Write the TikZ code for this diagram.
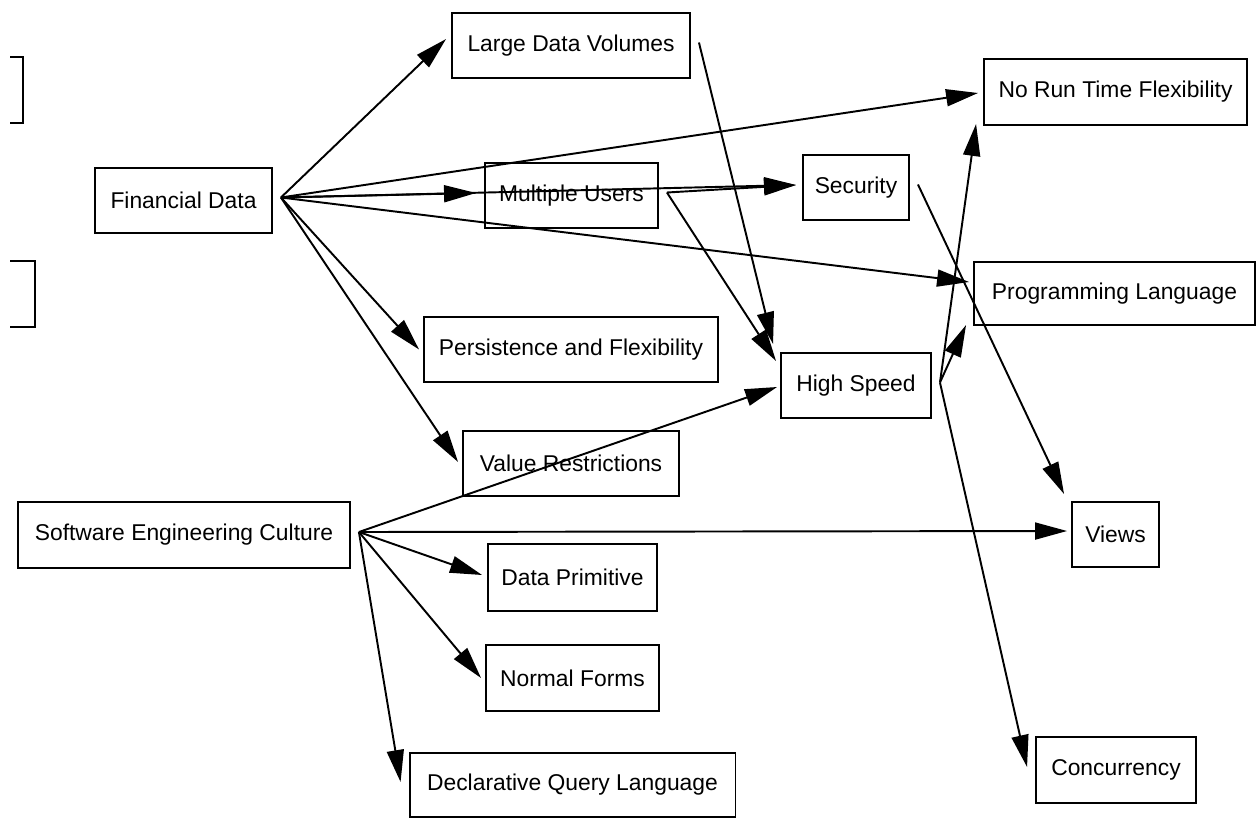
\documentclass[tikz,border=0pt]{standalone}
\usepackage{fontspec}
\setmainfont{Liberation Sans}
\usetikzlibrary{arrows.meta}
\definecolor{LineClr}{rgb}{0,0,0}

\begin{document}
\begin{tikzpicture}[x=0.02cm,y=-0.02cm,
  concept/.style={draw=LineClr,line width=1.1pt,minimum height=1.3cm,inner sep=2pt,
    font=\fontsize{13}{15}\selectfont},
  link/.style={draw=LineClr,line width=1.1pt,-{Triangle[length=0.64cm,width=0.34cm]}}]
\useasboundingbox (0,0) rectangle (1257,818);

\draw[line width=1.1pt] (10,57) -| (23,123) -- (10,123);
\draw[line width=1.1pt] (10,261) -| (35,327) -- (10,327);

\node[concept,minimum width=3.54cm] (fd) at (183.5,200.5) {Financial Data};
\node[concept,minimum width=6.64cm,minimum height=1.32cm] (culture) at (184,535) {Software Engineering Culture};

\node[concept,minimum width=4.76cm] (ldv) at (571,45.5) {Large Data Volumes};
\node[concept,minimum width=3.46cm] (mu) at (571.5,195.5) {Multiple Users};
\node[concept,minimum width=5.88cm] (pf) at (571,349.5) {Persistence and Flexibility};
\node[concept,minimum width=4.32cm] (vr) at (571,463.5) {Value Restrictions};
\node[concept,minimum width=3.38cm,minimum height=1.34cm] (dp) at (572.5,577.5) {Data Primitive};
\node[concept,minimum width=3.46cm,minimum height=1.32cm] (nf) at (572.5,678) {Normal Forms};
\node[concept,minimum width=6.52cm,minimum height=1.28cm] (dql) at (572.5,785) {Declarative Query Language};

\node[concept,minimum width=2.12cm] (security) at (856,187.5) {Security};
\node[concept,minimum width=3cm] (hs) at (856,385.5) {High Speed};

\node[concept,minimum width=5.26cm,minimum height=1.32cm] (nrtf) at (1115.5,92) {No Run Time Flexibility};
\node[concept,minimum width=5.62cm,minimum height=1.26cm] (pl) at (1114.5,293.5) {Programming Language};
\node[concept,minimum width=1.74cm] (views) at (1115.5,534.5) {Views};
\node[concept,minimum width=3.2cm,minimum height=1.32cm] (conc) at (1116,770) {Concurrency};

\foreach \n in {fd,culture,ldv,mu,security,hs}
  \coordinate (\n-out) at ([shift={(8,-3)}]\n.east);

\draw[link] (fd-out) -- ([shift={(-5,-6.5)}]ldv.west);
\draw[link] (fd-out) -- ([shift={(-5,1)}]nrtf.west);
\draw[link] (fd-out) -- ([shift={(-8,-2.5)}]mu.west);
\draw[link] (fd-out) -- ([shift={(-6,-2.5)}]security.west);
\draw[link] (fd-out) -- ([shift={(-4,-11.5)}]pl.west);
\draw[link] (fd-out) -- ([shift={(-4,0)}]pf.west);
\draw[link] (fd-out) -- ([shift={(-4,-1.5)}]vr.west);

\draw[link] (ldv-out) -- ([shift={(-7,-8)}]hs.north west);
\draw[link] (mu-out) -- ([shift={(-4,9)}]hs.north west);
\draw[link] (mu-out) -- ([shift={(-6,-2.5)}]security.west);
\draw[link] (security-out) -- ([shift={(-7,-7)}]views.north west);

\draw[link] (hs-out) -- ([shift={(-7,-2)}]nrtf.south west);
\draw[link] (hs-out) -- ([shift={(-7,-1)}]pl.south west);
\draw[link] (hs-out) -- ([shift={(-8,-3)}]conc.west);

\draw[link] (culture-out) -- ([shift={(-3,1.5)}]hs.west);
\draw[link] (culture-out) -- ([shift={(-4,-3.5)}]views.west);
\draw[link] (culture-out) -- ([shift={(-5,-2.5)}]dp.west);
\draw[link] (culture-out) -- ([shift={(-4,0)}]nf.west);
\draw[link] (culture-out) -- ([shift={(-8,-3)}]dql.west);

\end{tikzpicture}
\end{document}
